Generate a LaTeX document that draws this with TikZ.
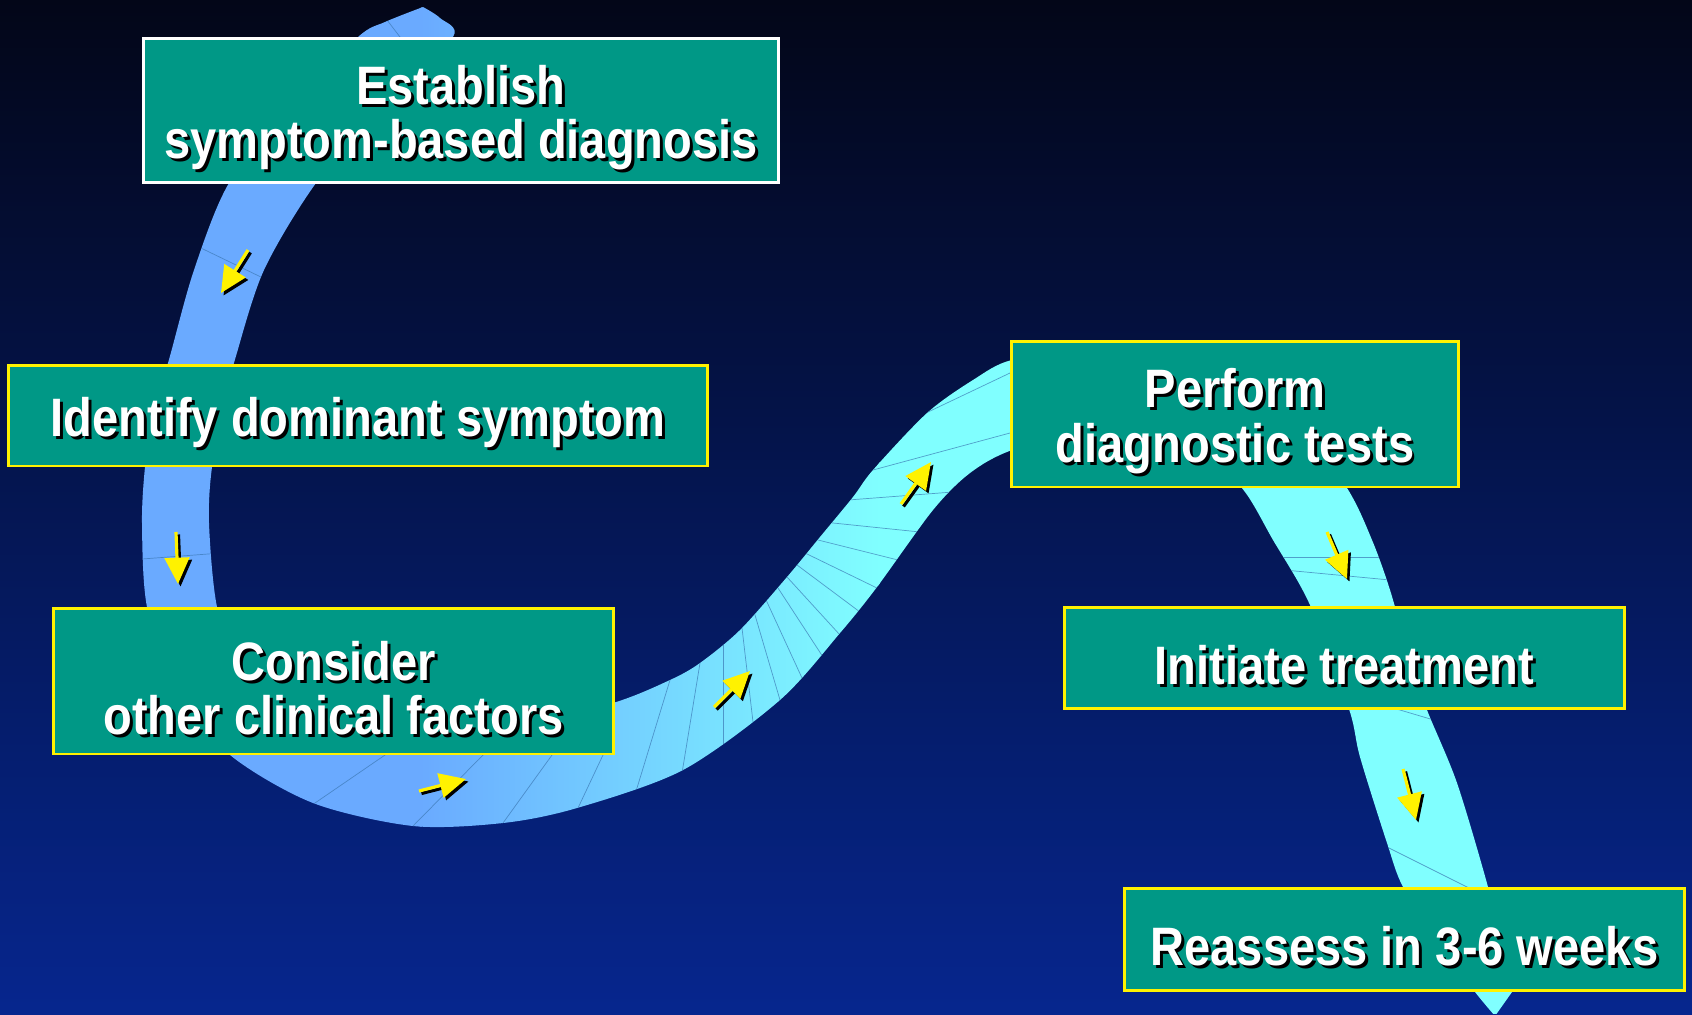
\documentclass[tikz,border=0pt]{standalone}
\usepackage{fontspec}
\usepackage{tikz}
\usetikzlibrary{arrows.meta}

\newfontfamily\boxfont{Liberation Sans}[FakeStretch=0.87]
\newcommand\shadowed[1]{\raisebox{-5pt}[\height][\depth]{%
  \rlap{\kern1.7pt\raisebox{-1.7pt}{\textcolor{black}{#1}}}#1}}

\definecolor{bgtop}{RGB}{3,6,24}
\definecolor{bgmid}{RGB}{4,22,88}
\definecolor{bgbot}{RGB}{6,38,142}
\definecolor{ribblue}{RGB}{106,170,255}
\definecolor{ribcyan}{RGB}{128,255,255}
\definecolor{segcol}{RGB}{60,120,180}
\definecolor{taskfill}{RGB}{0,152,134}

\tikzset{
  task/.style={rectangle, draw=yellow, line width=1.7pt, fill=taskfill,
    inner sep=0pt, align=center, text=white,
    font=\boxfont\bfseries\fontsize{30.8}{31}\selectfont},
  firsttask/.style={task, draw=white},
  seg/.style={draw=segcol, line width=0.4pt, opacity=0.7,
    shorten >=-6pt, shorten <=-6pt},
  flowarrow/.style={yellow, line width=1.8pt, -{Triangle[length=15pt,width=14pt]}},
}

\def\ribbonpath{plot[smooth] coordinates {(423,7) (385,22) (358,37) (292,105)
  (229,183) (194,270) (170,356) (152,420) (145,467) (142,523) (147,607)
  (175,690) (230,755) (313,803) (413,826) (503,823) (577,808) (683,770)
  (780,700) (840,633) (877,587) (933,510) (970,473) (1012,450) (1100,425)
  (1190,445) (1241,487) (1273,540) (1310,605) (1349,709) (1360,757)
  (1387,843) (1403,887) (1440,945) (1475,992) (1495,1016)}
  -- plot[smooth] coordinates {(1512,992) (1500,940) (1488,887) (1457,783)
  (1427,710) (1410,660) (1390,590) (1372,540) (1347,488) (1290,410)
  (1180,365) (1090,352) (1012,360) (973,380) (927,413) (873,470) (853,497)
  (820,537) (787,577) (740,630) (700,663) (670,680) (613,703) (500,732)
  (400,740) (300,718) (240,670) (217,607) (209,523) (212,467) (225,400)
  (236,356) (264,270) (316,183) (390,95) (453,37) (440,18) (423,7)} -- cycle}

\begin{document}
\begin{tikzpicture}[x=0.02cm, y=-0.02cm]
  \useasboundingbox (0,0) rectangle (1692,1014);
  \shade[top color=bgtop, middle color=bgmid, bottom color=bgbot]
    (0,0) rectangle (1692,1014);

  % the ribbon
  \begin{scope}
    \clip \ribbonpath;
    \fill[ribblue] (0,0) rectangle (422,1014);
    \shade[left color=ribblue, right color=ribcyan] (420,0) rectangle (880,1014);
    \fill[ribcyan] (878,0) rectangle (1692,1014);
    \foreach \xa/\ya/\xb/\yb in {387/20/400/37, 205/250/263/278,
        142/559/208/554, 315/803/385/755, 413/826/483/755, 503/823/552/755,
        578/808/603/755, 637/788/670/680, 683/767/700/663, 723/743/723/645,
        753/722/742/628, 780/700/755/615, 802/678/767/602, 823/657/778/588,
        840/635/787/577, 860/612/797/565, 877/588/805/553, 898/560/818/540,
        920/532/833/523, 953/492/848/500, 1010/433/873/470, 1010/373/928/412,
        1288/557/1390/557, 1295/571/1390/580, 1400/710/1427/718,
        1387/847/1467/887}
      \draw[seg] (\xa,\ya) -- (\xb,\yb);
  \end{scope}

  % small arrows along the ribbon
  \foreach \xa/\ya/\xb/\yb in {248/250/221/293, 176/532/178/584,
      419/791/466/779, 714/707/750/671, 901/504/931/462,
      1327/532/1347/579, 1403/769/1416/820} {
    \draw[flowarrow, black, shift={(2.5,2.5)}] (\xa,\ya) -- (\xb,\yb);
    \draw[flowarrow] (\xa,\ya) -- (\xb,\yb);
  }

  % the steps
  \node[firsttask, minimum width=12.7cm, minimum height=2.9cm] (establish) at (461,110.5)
    {\shadowed{Establish}\\\shadowed{symptom-based diagnosis}};
  \node[task, minimum width=13.98cm, minimum height=2.02cm] (identify) at (358,415.5)
    {\shadowed{Identify dominant symptom}};
  \node[task, minimum width=11.22cm, minimum height=2.92cm] (consider) at (333.5,681)
    {\shadowed{Consider}\\\shadowed{other clinical factors}};
  \node[task, minimum width=8.96cm, minimum height=2.92cm] (perform) at (1235,414)
    {\shadowed{Perform}\\\shadowed{diagnostic tests}};
  \node[task, minimum width=11.22cm, minimum height=2.03cm] (initiate) at (1344.5,658)
    {\shadowed{Initiate treatment}};
  \node[task, minimum width=11.22cm, minimum height=2.04cm] (reassess) at (1404.5,939)
    {\shadowed{Reassess in 3-6 weeks}};
\end{tikzpicture}
\end{document}
